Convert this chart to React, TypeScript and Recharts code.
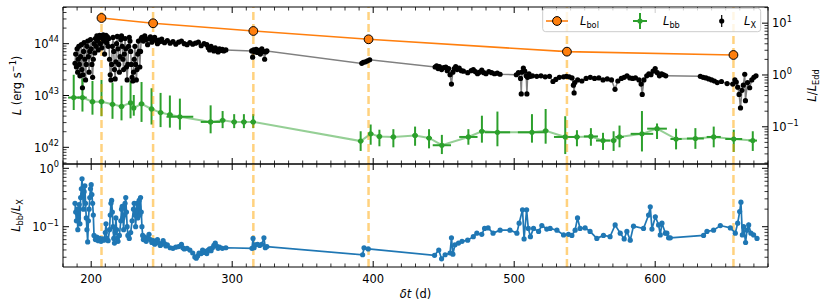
import React from 'react';
import { ComposedChart, Line, Scatter, XAxis, YAxis, ErrorBar, ReferenceLine } from 'recharts';

const FONT = '"DejaVu Sans", sans-serif';
const FS = 11.5;

// bolometric epochs (d) and log10 L_bol (erg/s)
const bolT = [207.3, 243.9, 315.0, 396.7, 537.4, 655.5];
const bolLog = [44.496, 44.394, 44.245, 44.085, 43.846, 43.782];

// blackbody fits: epoch, log10 L_bb, epoch half-width, dex below / above
const bbT = [187.6, 193.8, 200.9, 207.3, 215.1, 221.5, 227.9, 230.2, 235.7, 242.8,
  249.2, 255.8, 262.9, 284.7, 293.2, 301.4, 308.3, 314.9, 391.1, 398.2,
  404.4, 414.3, 429.7, 439.6, 448.7, 467.5, 477.1, 488.1, 512.6, 522.3,
  536.2, 544.5, 554.4, 563.0, 570.5, 574.7, 590.6, 601.3, 614.8, 628.5,
  641.5, 655.7, 669.2];
const bbLog = [42.96, 42.96, 42.88, 42.88, 42.83, 42.79, 42.86, 42.76, 42.84, 42.74,
  42.67, 42.63, 42.59, 42.49, 42.52, 42.49, 42.49, 42.49, 42.12, 42.26,
  42.21, 42.20, 42.23, 42.18, 42.04, 42.20, 42.31, 42.29, 42.29, 42.32,
  42.20, 42.20, 42.21, 42.13, 42.13, 42.20, 42.26, 42.36, 42.16, 42.17,
  42.20, 42.16, 42.13];
const bbTerr = [4, 3, 2, 2, 2, 2, 1.5, 1.5, 2, 2,
  2, 2, 9.5, 7, 2, 2, 2, 2, 2, 2,
  2, 2, 2, 2, 6.5, 6.5, 2, 9, 10, 2,
  8, 2, 5, 5, 2, 3, 8, 7, 4, 6,
  5, 6, 3];
const bbLo = [0.24, 0.27, 0.25, 0.28, 0.28, 0.27, 0.30, 0.15, 0.35, 0.30,
  0.28, 0.25, 0.25, 0.22, 0.15, 0.12, 0.12, 0.12, 0.19, 0.21,
  0.19, 0.20, 0.20, 0.20, 0.17, 0.15, 0.22, 0.27, 0.20, 0.25,
  0.33, 0.18, 0.18, 0.18, 0.20, 0.20, 0.34, 0.20, 0.20, 0.20,
  0.20, 0.25, 0.20];
const bbHi = [0.44, 0.37, 0.40, 0.42, 0.42, 0.40, 0.42, 0.25, 0.42, 0.40,
  0.38, 0.37, 0.35, 0.32, 0.18, 0.15, 0.15, 0.15, 0.19, 0.18,
  0.13, 0.15, 0.17, 0.17, 0.20, 0.15, 0.30, 0.40, 0.35, 0.42,
  0.40, 0.13, 0.16, 0.15, 0.18, 0.22, 0.44, 0.10, 0.20, 0.20,
  0.20, 0.18, 0.18];

// X-ray light curve: [epoch, log10 L_X]
const lxSeries: [number, number][] = [
  [188.5, 43.62], [189.0, 43.80], [189.5, 43.55], [190.0, 43.90], [190.4, 43.45], [190.8, 43.70],
  [191.2, 43.95], [191.6, 43.60], [192.0, 43.38], [192.5, 43.75], [193.0, 43.98], [193.4, 43.50],
  [193.8, 43.15], [194.2, 43.40], [194.6, 43.85], [195.0, 44.02], [195.5, 43.70], [196.0, 43.30],
  [196.5, 43.60], [197.0, 43.95], [197.5, 44.05], [198.0, 43.75], [198.5, 43.45], [199.0, 43.85],
  [199.5, 44.08], [200.0, 43.90], [200.5, 43.60], [201.0, 43.35], [201.5, 43.70], [202.0, 44.00],
  [202.5, 43.82], [203.0, 44.10], [203.5, 43.95], [204.0, 44.15], [204.5, 44.05], [205.0, 43.88],
  [205.5, 44.12], [206.0, 44.16], [206.5, 44.00], [207.0, 44.14], [207.5, 43.92], [208.0, 44.10],
  [208.5, 44.17], [209.0, 44.05], [209.5, 43.80], [210.0, 44.12], [210.5, 44.16], [211.0, 44.02],
  [211.5, 44.13], [212.0, 43.95], [212.5, 44.10], [213.0, 43.70], [213.5, 43.40], [214.0, 43.30],
  [214.5, 43.60], [215.0, 43.95], [215.5, 44.12], [216.0, 43.85], [216.5, 43.50], [217.0, 43.32],
  [217.5, 43.65], [218.0, 44.00], [218.5, 44.14], [219.0, 43.90], [219.5, 43.60], [220.0, 43.45],
  [220.5, 43.75], [221.0, 44.08], [221.5, 44.15], [222.0, 43.95], [222.5, 43.70], [223.0, 43.50],
  [223.5, 43.80], [224.0, 44.10], [224.5, 43.90], [225.0, 43.55], [225.5, 43.30], [226.0, 43.60],
  [226.5, 43.95], [227.0, 44.12], [227.5, 44.05], [228.0, 43.85], [228.5, 43.60], [229.0, 43.35],
  [229.5, 43.28], [230.0, 43.45], [230.5, 43.70], [231.0, 43.95], [231.5, 43.60], [232.0, 43.30],
  [232.5, 43.50], [233.0, 43.80], [233.5, 44.05], [234.0, 43.85], [234.5, 43.55], [235.0, 43.85],
  [235.5, 44.10], [236.0, 44.12], [237.0, 44.05], [238.0, 44.15], [239.0, 44.08], [240.0, 43.98],
  [241.0, 44.10], [242.0, 44.13], [243.0, 44.03], [244.0, 44.08], [245.0, 44.12], [246.0, 44.06],
  [247.0, 44.00], [248.0, 44.07], [249.0, 44.04], [250.0, 44.09], [252.0, 44.02], [254.0, 44.06],
  [256.0, 44.01], [258.0, 44.04], [260.0, 43.99], [262.0, 44.03], [264.0, 44.05], [266.0, 44.00],
  [268.0, 43.98], [270.0, 44.02], [272.0, 43.99], [274.0, 44.01], [276.0, 44.03], [278.0, 43.96],
  [280.0, 44.00], [282.0, 43.98], [283.0, 43.92], [284.0, 43.88], [285.0, 43.95], [286.0, 43.90],
  [287.0, 43.86], [288.0, 43.92], [289.0, 43.88], [290.0, 43.84], [291.0, 43.90], [292.0, 43.87],
  [293.0, 43.89], [294.0, 43.86], [295.5, 43.88],
  [313.8, 43.86], [314.5, 43.74], [315.2, 43.88], [316.0, 43.84], [317.0, 43.89], [318.0, 43.83],
  [319.0, 43.87], [320.0, 43.80], [321.0, 43.90], [322.0, 43.85], [323.0, 43.70], [323.8, 43.84],
  [324.6, 43.86],
  [391.9, 43.62], [393.0, 43.64], [394.5, 43.65], [396.0, 43.67], [397.5, 43.69],
  [443.9, 43.55], [445.0, 43.57], [446.0, 43.52], [447.0, 43.56], [448.5, 43.50], [450.0, 43.54],
  [451.5, 43.55], [452.5, 43.48], [453.5, 43.52], [454.5, 43.40], [455.5, 43.22], [456.5, 43.45],
  [457.5, 43.52], [458.5, 43.56], [459.5, 43.50], [461.0, 43.53], [462.5, 43.48], [464.0, 43.47],
  [467.0, 43.44], [469.5, 43.48], [471.0, 43.50], [472.5, 43.46], [474.0, 43.42], [475.5, 43.45],
  [477.0, 43.49], [478.5, 43.44], [480.0, 43.42], [482.0, 43.46], [484.0, 43.44], [486.0, 43.42],
  [488.0, 43.43], [490.0, 43.41],
  [501.5, 43.40], [503.0, 43.44], [504.5, 43.33], [505.0, 43.03], [505.5, 43.45], [506.5, 43.53],
  [507.5, 43.47], [508.5, 43.38], [509.0, 43.03], [509.5, 43.35], [510.5, 43.42], [511.5, 43.37],
  [513.0, 43.38], [516.0, 43.37], [519.0, 43.38], [522.0, 43.36], [525.0, 43.37], [527.5, 43.27],
  [529.5, 43.31], [532.0, 43.35], [535.0, 43.36], [537.0, 43.37], [539.0, 43.36], [541.0, 43.34],
  [542.0, 43.20], [542.5, 43.05], [543.0, 43.25], [545.0, 43.30], [548.0, 43.28], [551.0, 43.33],
  [554.0, 43.35], [557.0, 43.33], [560.0, 43.34], [563.0, 43.30], [566.0, 43.32], [569.0, 43.30],
  [571.5, 43.12], [573.5, 43.28], [576.0, 43.33], [578.0, 43.35], [580.0, 43.38], [582.0, 43.34],
  [584.0, 43.33], [586.0, 43.34], [588.5, 43.30], [590.0, 43.22], [590.8, 43.02], [592.0, 43.30],
  [594.0, 43.38], [595.5, 43.42], [597.0, 43.40], [598.5, 43.47], [600.0, 43.52], [601.5, 43.44],
  [603.0, 43.38], [604.5, 43.42], [606.0, 43.40], [607.5, 43.38],
  [632.0, 43.37], [634.0, 43.35], [636.0, 43.34], [638.0, 43.32], [640.0, 43.30], [642.0, 43.28],
  [644.0, 43.25], [647.0, 43.27], [651.0, 43.23], [655.0, 43.22], [656.5, 43.30], [657.5, 43.26],
  [658.5, 43.16], [659.5, 43.02], [660.5, 42.76], [661.5, 43.10], [662.5, 43.20], [663.5, 43.41],
  [664.0, 42.90], [665.5, 43.25], [667.0, 43.15], [668.5, 43.30], [670.0, 43.35], [671.5, 43.38],
];

// L_bb / L_X ratio: [epoch, log10 ratio]
const ratioSeries: [number, number][] = [
  [188.5, -0.60], [189.0, -0.75], [189.5, -0.90], [190.0, -0.70], [190.5, -1.05], [191.0, -0.85],
  [191.5, -0.62], [192.0, -0.95], [192.5, -0.50], [193.0, -0.35], [193.5, -0.18], [194.0, -0.45],
  [194.5, -0.70], [195.0, -0.40], [195.5, -0.30], [196.0, -0.60], [196.5, -0.85], [197.0, -1.05],
  [197.5, -1.26], [198.0, -0.90], [198.5, -0.70], [199.0, -0.50], [199.5, -0.35], [200.0, -0.28],
  [200.5, -0.45], [201.0, -0.60], [201.5, -0.80], [202.0, -1.15], [203.0, -1.22], [204.0, -1.18],
  [205.0, -1.24], [206.0, -1.20], [207.0, -1.25], [208.0, -1.21], [209.0, -1.23], [210.0, -1.10],
  [210.5, -0.95], [211.0, -1.20], [212.0, -1.24], [213.0, -1.05], [213.5, -0.80], [214.0, -0.60],
  [214.5, -0.55], [215.0, -0.75], [215.5, -1.00], [216.0, -1.20], [216.5, -1.28], [217.0, -1.10],
  [217.5, -0.85], [218.0, -1.05], [218.5, -1.20], [219.0, -1.25], [220.0, -1.15], [221.0, -0.90],
  [221.5, -0.70], [222.0, -0.65], [222.5, -0.85], [223.0, -1.05], [223.5, -0.80], [224.0, -0.60],
  [224.5, -0.50], [225.0, -0.75], [225.5, -1.00], [226.0, -1.15], [227.0, -1.20], [228.0, -1.10],
  [229.0, -0.90], [230.0, -0.70], [230.5, -0.60], [231.0, -0.80], [231.5, -1.00], [232.0, -0.75],
  [232.5, -0.60], [233.0, -0.85], [233.5, -0.65], [234.0, -0.55], [234.5, -0.80], [235.0, -0.50],
  [235.5, -0.75], [236.0, -1.00], [236.5, -1.15], [237.0, -1.22], [238.0, -1.18], [239.0, -1.25],
  [240.0, -1.20], [241.0, -1.13], [242.0, -1.22], [243.0, -1.27], [244.0, -1.24], [245.0, -1.30],
  [246.0, -1.26], [247.0, -1.22], [248.0, -1.28], [249.0, -1.32], [250.0, -1.30], [251.0, -1.24],
  [252.0, -1.29], [253.0, -1.33], [254.0, -1.31], [256.0, -1.36], [258.0, -1.37], [260.0, -1.35],
  [262.0, -1.34], [264.0, -1.30], [265.0, -1.36], [266.0, -1.38], [268.0, -1.37], [270.0, -1.40],
  [272.0, -1.45], [273.5, -1.52], [274.5, -1.54], [275.5, -1.50], [276.5, -1.45], [278.0, -1.46],
  [279.0, -1.40], [280.0, -1.44], [281.0, -1.42], [282.0, -1.46], [283.0, -1.40], [284.0, -1.38],
  [285.0, -1.41], [286.0, -1.36], [287.0, -1.32], [288.0, -1.28], [289.0, -1.33], [290.0, -1.37],
  [291.0, -1.35], [293.0, -1.37], [295.5, -1.36],
  [314.0, -1.37], [314.8, -1.20], [315.5, -1.36], [316.5, -1.31], [318.0, -1.30], [319.5, -1.32],
  [321.0, -1.30], [322.5, -1.19], [323.5, -1.36], [324.6, -1.34],
  [392.5, -1.48], [393.5, -1.36], [396.5, -1.38],
  [443.5, -1.49], [446.5, -1.40], [448.5, -1.55], [451.0, -1.48], [454.5, -1.45], [455.5, -1.19],
  [456.5, -1.47], [458.0, -1.31], [460.5, -1.28], [463.0, -1.25], [467.0, -1.23], [471.0, -1.17],
  [473.5, -1.11], [477.0, -1.13], [479.0, -1.03], [481.5, -1.02], [485.0, -1.11], [490.0, -1.06],
  [497.0, -1.06],
  [501.9, -1.11], [503.5, -0.94], [505.9, -0.71], [507.0, -1.21], [508.8, -0.71], [510.0, -1.03],
  [511.5, -1.17], [513.7, -1.03], [517.3, -1.08], [519.6, -0.98], [523.1, -1.04], [525.5, -1.03],
  [530.3, -1.06], [535.0, -1.14], [538.5, -1.13], [540.9, -1.15], [543.2, -1.06], [544.9, -0.85],
  [546.7, -1.03], [550.3, -1.02], [553.8, -1.08], [558.6, -1.20], [563.3, -1.15], [568.0, -1.17],
  [571.6, -0.97], [575.2, -1.11], [578.0, -1.21], [579.9, -1.08], [582.3, -1.23], [584.6, -0.99],
  [591.7, -1.03], [595.3, -0.80], [596.5, -0.66], [597.7, -1.04], [600.1, -0.83], [602.4, -0.97],
  [603.6, -1.14], [604.8, -0.94], [607.2, -1.11], [608.3, -1.11], [609.5, -1.19], [610.7, -1.19],
  [634.3, -1.15], [636.7, -1.08], [641.4, -1.06], [646.2, -0.98], [653.3, -1.02], [656.8, -1.11],
  [658.5, -0.94], [659.9, -0.74], [660.8, -0.58], [661.8, -1.14], [662.7, -1.00], [664.1, -1.27],
  [665.1, -1.06], [666.3, -0.97], [667.9, -1.11], [669.8, -1.14], [672.2, -1.20],
];

const xMajor = [200, 300, 400, 500, 600];
const xDomain: [number, number] = [180, 680];
const lDomain: [number, number] = [41.678, 44.708];
const eddOffset = 43.396; // log10 L at L/L_Edd = 1
const rDomain: [number, number] = [-1.69, 0.074];

const bolData = bolT.map((t, i) => ({ x: t, y: bolLog[i] }));
const bbData = bbT.map((t, i) => ({ x: t, y: bbLog[i], ex: bbTerr[i], ey: [bbLo[i], bbHi[i]] }));
const lxData = lxSeries.map(([t, v]) => ({ x: t, y: v }));
const ratioData = ratioSeries.map(([t, v]) => ({ x: t, y: v }));

const xTicks: number[] = [];
for (let v = xDomain[0]; v <= xDomain[1]; v += 10) xTicks.push(v);

function logTicks(lo: number, hi: number) {
  const out: number[] = [];
  for (let d = Math.floor(lo); d <= Math.ceil(hi); d++) {
    for (let k = 1; k <= 9; k++) {
      const v = d + Math.log10(k);
      if (v >= lo - 1e-9 && v <= hi + 1e-9) out.push(v);
    }
  }
  return out;
}
const isMajor = (v: number) => Math.abs(v - Math.round(v)) < 1e-6;
const expText = (v: number) => String(Math.round(v)).replace('-', '\u2212');

const MAJ = 6;
const MIN = 3.5;

const xTickBottom = (labels: boolean) => (p: any) => {
  const v = p.payload.value;
  const major = xMajor.includes(v);
  return (
    <g>
      <line x1={p.x} x2={p.x} y1={p.y} y2={p.y - (major ? MAJ : MIN)} stroke="#000" strokeWidth={major ? 1 : 0.8} />
      {labels && major && (
        <text x={p.x} y={p.y + 15.7} textAnchor="middle" fontSize={FS} fontFamily={FONT} fill="#000">{v}</text>
      )}
    </g>
  );
};

const xTickTop = (p: any) => {
  const major = xMajor.includes(p.payload.value);
  return <line x1={p.x} x2={p.x} y1={p.y} y2={p.y + (major ? MAJ : MIN)} stroke="#000" strokeWidth={major ? 1 : 0.8} />;
};

const yTickLeft = (labels: boolean) => (p: any) => {
  const v = p.payload.value;
  const major = isMajor(v);
  return (
    <g>
      <line x1={p.x} x2={p.x + (major ? MAJ : MIN)} y1={p.y} y2={p.y} stroke="#000" strokeWidth={major ? 1 : 0.8} />
      {labels && major && (
        <text x={p.x - 4} y={p.y + 4.3} textAnchor="end" fontSize={FS} fontFamily={FONT} fill="#000">
          10<tspan dy={-5.5} fontSize={8.2}>{expText(v)}</tspan>
        </text>
      )}
    </g>
  );
};

const yTickRight = (labels: boolean) => (p: any) => {
  const v = p.payload.value;
  const major = isMajor(v);
  return (
    <g>
      <line x1={p.x} x2={p.x - (major ? MAJ : MIN)} y1={p.y} y2={p.y} stroke="#000" strokeWidth={major ? 1 : 0.8} />
      {labels && major && (
        <text x={p.x + 4} y={p.y + 4.3} textAnchor="start" fontSize={FS} fontFamily={FONT} fill="#000">
          10<tspan dy={-5.5} fontSize={8.2}>{expText(v)}</tspan>
        </text>
      )}
    </g>
  );
};

const blackDot = (p: any) => <circle key={`k${p.index}`} cx={p.cx} cy={p.cy} r={2.6} fill="#000" />;
const blueDot = (p: any) => <circle key={`b${p.index}`} cx={p.cx} cy={p.cy} r={2.6} fill="#1f77b4" />;
const bolDot = (p: any) => (
  <circle key={`o${p.index}`} cx={p.cx} cy={p.cy} r={4.4} fill="#ff7f0e" stroke="#000" strokeWidth={1} />
);
const greenDot = (p: any) => <circle cx={p.cx} cy={p.cy} r={2.6} fill="#2ca02c" />;

const axisLine = { stroke: '#000', strokeWidth: 1 };
const commonX = {
  type: 'number' as const,
  dataKey: 'x',
  domain: xDomain,
  allowDataOverflow: true,
  ticks: xTicks,
  interval: 0 as const,
  tickSize: 0,
  tickMargin: 0,
  height: 1,
  axisLine,
  tickLine: false,
};
const commonY = {
  type: 'number' as const,
  allowDataOverflow: true,
  interval: 0 as const,
  width: 1,
  tickSize: 0,
  tickMargin: 0,
  axisLine,
  tickLine: false,
};

export default function App() {
  const leftTicksTop = logTicks(lDomain[0], lDomain[1]);
  const eddDomain: [number, number] = [lDomain[0] - eddOffset, lDomain[1] - eddOffset];
  const rightTicksTop = logTicks(eddDomain[0], eddDomain[1]);
  const ratioTicks = logTicks(rDomain[0], rDomain[1]);

  return (
    <div style={{ position: 'absolute', left: 0, top: 0, width: 830, height: 305, background: '#fff' }}>
      <div style={{ position: 'absolute', left: 0, top: 0 }}>
        <ComposedChart width={830} height={170} margin={{ top: 6, right: 61, bottom: 5, left: 62 }}>
          <XAxis xAxisId="b" orientation="bottom" {...commonX} tick={xTickBottom(false)} />
          <XAxis xAxisId="t" orientation="top" {...commonX} tick={xTickTop} />
          <YAxis yAxisId="L" orientation="left" dataKey="y" domain={lDomain} ticks={leftTicksTop}
            {...commonY} tick={yTickLeft(true)} />
          <YAxis yAxisId="E" orientation="right" domain={eddDomain} ticks={rightTicksTop}
            {...commonY} tick={yTickRight(true)} />
          <Line xAxisId="b" yAxisId="L" data={lxData} dataKey="y" type="linear" stroke="#808080" strokeWidth={1.5}
            dot={blackDot} activeDot={false} isAnimationActive={false} />
          <Line xAxisId="b" yAxisId="L" data={bbData} dataKey="y" type="linear" stroke="#2ca02c" strokeOpacity={0.5}
            strokeWidth={2} dot={false} activeDot={false} isAnimationActive={false} />
          <Scatter xAxisId="b" yAxisId="L" data={bbData} fill="#2ca02c" shape={greenDot} isAnimationActive={false}>
            <ErrorBar dataKey="ex" direction="x" width={0} stroke="#2ca02c" strokeWidth={2} />
            <ErrorBar dataKey="ey" direction="y" width={0} stroke="#2ca02c" strokeWidth={2} />
          </Scatter>
          <Line xAxisId="b" yAxisId="L" data={bolData} dataKey="y" type="linear" stroke="#ff7f0e" strokeWidth={1.6}
            dot={bolDot} activeDot={false} isAnimationActive={false} />
          {bolT.map((t) => (
            <ReferenceLine key={t} x={t} xAxisId="b" yAxisId="L" stroke="orange" strokeOpacity={0.5}
              strokeWidth={2.5} strokeDasharray="8 4" />
          ))}
        </ComposedChart>
      </div>
      <div style={{ position: 'absolute', left: 0, top: 160 }}>
        <ComposedChart width={830} height={145} margin={{ top: 3, right: 61, bottom: 37, left: 62 }}>
          <XAxis xAxisId="b" orientation="bottom" {...commonX} tick={xTickBottom(true)} />
          <XAxis xAxisId="t" orientation="top" {...commonX} tick={xTickTop} />
          <YAxis yAxisId="R" orientation="left" dataKey="y" domain={rDomain} ticks={ratioTicks}
            {...commonY} tick={yTickLeft(true)} />
          <YAxis yAxisId="R2" orientation="right" domain={rDomain} ticks={ratioTicks}
            {...commonY} tick={yTickRight(false)} />
          {bolT.map((t) => (
            <ReferenceLine key={t} x={t} xAxisId="b" yAxisId="R" stroke="orange" strokeOpacity={0.5}
              strokeWidth={2.5} strokeDasharray="8 4" />
          ))}
          <Line xAxisId="b" yAxisId="R" data={ratioData} dataKey="y" type="linear" stroke="#1f77b4" strokeWidth={1.7}
            dot={blueDot} activeDot={false} isAnimationActive={false} />
        </ComposedChart>
      </div>
      <svg width={830} height={305} style={{ position: 'absolute', left: 0, top: 0, pointerEvents: 'none' }}
        fontFamily={FONT} fontSize={FS}>
        {/* axis titles */}
        <text transform="translate(21,85.5) rotate(-90)" textAnchor="middle" fill="#000">
          <tspan fontStyle="italic">L</tspan> (erg s<tspan dy={-5} fontSize={8.2}>{'\u22121'}</tspan><tspan dy={5}>)</tspan>
        </text>
        <text transform="translate(20,215.5) rotate(-90)" textAnchor="middle" fill="#000">
          <tspan fontStyle="italic">L</tspan><tspan dy={3} fontSize={8.2}>bb</tspan>
          <tspan dy={-3}>/</tspan><tspan fontStyle="italic">L</tspan><tspan dy={3} fontSize={8.2}>X</tspan>
        </text>
        <text transform="translate(816,85.5) rotate(-90)" textAnchor="middle" fill="#000">
          <tspan fontStyle="italic">L</tspan>/<tspan fontStyle="italic">L</tspan><tspan dy={3} fontSize={8.2}>Edd</tspan>
        </text>
        <text x={415.5} y={297.5} textAnchor="middle" fill="#000">
          <tspan fontStyle="italic">δt</tspan> (d)
        </text>
        {/* legend */}
        <rect x={542.7} y={8.3} width={218} height={23.4} rx={3} fill="#fff" fillOpacity={0.8} stroke="#cccccc" strokeWidth={1} />
        <line x1={546} x2={568} y1={21} y2={21} stroke="#ff7f0e" strokeWidth={1.6} />
        <circle cx={557} cy={21} r={4.4} fill="#ff7f0e" stroke="#000" strokeWidth={1} />
        <text x={580} y={25} fill="#000"><tspan fontStyle="italic">L</tspan><tspan dy={3} fontSize={8.2}>bol</tspan></text>
        <line x1={633} x2={647} y1={21} y2={21} stroke="#2ca02c" strokeWidth={2} />
        <line x1={640} x2={640} y1={13} y2={29} stroke="#2ca02c" strokeWidth={2} />
        <circle cx={640} cy={21} r={2.6} fill="#2ca02c" />
        <text x={663} y={25} fill="#000"><tspan fontStyle="italic">L</tspan><tspan dy={3} fontSize={8.2}>bb</tspan></text>
        <line x1={721.7} x2={721.7} y1={15} y2={27} stroke="#000" strokeWidth={1.2} />
        <circle cx={721.7} cy={21} r={2.6} fill="#000" />
        <text x={744} y={25} fill="#000"><tspan fontStyle="italic">L</tspan><tspan dy={3} fontSize={8.2}>X</tspan></text>
      </svg>
    </div>
  );
}
